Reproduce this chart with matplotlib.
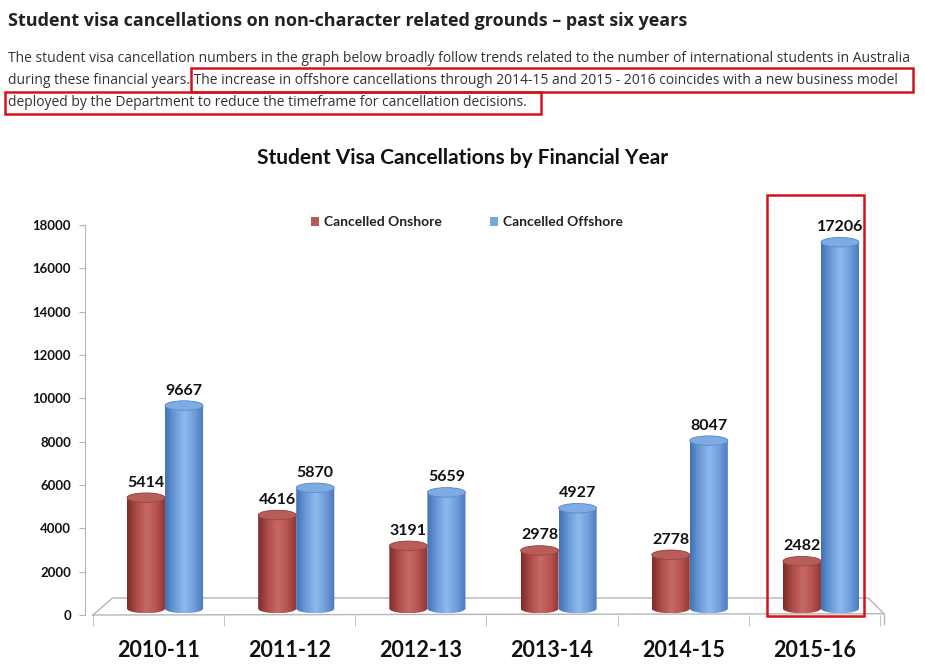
import numpy as np
import matplotlib.pyplot as plt
from matplotlib.patches import Polygon, Ellipse, Rectangle, Patch
from matplotlib.colors import LinearSegmentedColormap

years = ['2010-11', '2011-12', '2012-13', '2013-14', '2014-15', '2015-16']
onshore = [5414, 4616, 3191, 2978, 2778, 2482]
offshore = [9667, 5870, 5659, 4927, 8047, 17206]

heading = 'Student visa cancellations on non-character related grounds \u2013 past six years'
para = ['The student visa cancellation numbers in the graph below broadly follow trends related to the number of international students in Australia',
        'during these financial years. The increase in offshore cancellations through 2014-15 and 2015 - 2016 coincides with a new business model',
        'deployed by the Department to reduce the timeframe for cancellation decisions.']
chart_title = 'Student Visa Cancellations by Financial Year'

W, H = 925, 665
fig = plt.figure(figsize=(9.25, 6.65), dpi=100)


def fx(x):
    return x / W


def fy(y):
    return 1 - y / H


# page text above the chart
fig.text(fx(8), fy(21), heading, family='Open Sans', weight='bold', fontsize=13.0,
         color='#222222', va='center', ha='left')
for i, line in enumerate(para):
    fig.text(fx(8), fy(58 + i * 22.5), line, family='Open Sans', fontsize=10.0,
             color='#333333', va='center', ha='left')

# red highlight boxes
for (x0, y0, x1, y1) in [(191, 68, 913, 92), (5, 92, 541, 114), (767, 195, 864, 616)]:
    fig.add_artist(Rectangle((fx(x0), fy(y1)), fx(x1) - fx(x0), fy(y0) - fy(y1),
                             transform=fig.transFigure, fill=False,
                             edgecolor='#d0141a', linewidth=1.8, zorder=10))

fig.text(fx(463), fy(158), chart_title, family='Lato', weight='bold', fontsize=15.0,
         color='#111111', ha='center', va='center')

ax = fig.add_axes([fx(85), fy(615), fx(880) - fx(85), fy(225) - fy(615)])

red_cmap = LinearSegmentedColormap.from_list('r', ['#7c2c2a', '#b04d4a', '#c56a66', '#b85350', '#8a3533'])
blue_cmap = LinearSegmentedColormap.from_list('b', ['#4272b3', '#6a9ad8', '#8fbaee', '#6f9fdc', '#4878ba'])

half_w = 0.145
ry = 220
base = 300


def cylinder(xc, top, cmap, top_color, rim):
    t = np.linspace(np.pi, 2 * np.pi, 50)
    lower = np.column_stack([xc + half_w * np.cos(t), base + ry * np.sin(t)])
    t2 = np.linspace(0, np.pi, 50)
    upper = np.column_stack([xc + half_w * np.cos(t2), top + ry * np.sin(t2)])
    outline = Polygon(np.vstack([lower, upper]), closed=True, facecolor='none',
                      edgecolor='none', zorder=3)
    ax.add_patch(outline)
    grad = np.linspace(0, 1, 128).reshape(1, -1)
    im = ax.imshow(grad, cmap=cmap, extent=[xc - half_w, xc + half_w, base - ry, top + ry],
                   aspect='auto', interpolation='bilinear', zorder=3)
    im.set_clip_path(outline)
    ax.add_patch(Ellipse((xc, top), 2 * half_w, 2 * ry, facecolor=top_color,
                         edgecolor=rim, linewidth=0.6, zorder=4))


# 3d floor
ax.plot([-0.5, -0.35, 5.41, 5.53, -0.5], [0, 785, 785, 60, 0], color='#b5b5b5', lw=1, zorder=1,
        clip_on=False)
ax.plot([5.53, 5.53], [60, -400], color='#b5b5b5', lw=1, zorder=1, clip_on=False)

x = np.arange(len(years))
for i in range(len(years)):
    xr = x[i] + 0.05 - half_w
    xb = x[i] + 0.05 + half_w
    cylinder(xr, onshore[i], red_cmap, '#b75d5a', '#9a4542')
    cylinder(xb, offshore[i], blue_cmap, '#7eabe3', '#5d8bca')
    ax.text(xr, onshore[i] + ry + 150, str(onshore[i]), family='Lato', weight='bold',
            fontsize=11.5, ha='center', va='bottom', color='#111111', zorder=6)
    ax.text(xb, offshore[i] + ry + 150, str(offshore[i]), family='Lato', weight='bold',
            fontsize=11.5, ha='center', va='bottom', color='#111111', zorder=6)

ax.set_xlim(-0.56, 5.5)
ax.set_ylim(0, 18000)
ax.set_yticks(range(0, 18001, 2000))
ax.set_yticklabels([str(v) for v in range(0, 18001, 2000)], family='Lato', weight='bold',
                   fontsize=9.5, color='#111111')
ax.set_xticks(x)
ax.set_xticklabels(years, family='Lato', weight='bold', fontsize=15.5, color='#111111')
ax.set_xticks(np.arange(-0.5, 6, 1), minor=True)
ax.tick_params(axis='x', which='major', length=0, pad=18)
ax.tick_params(axis='x', which='minor', length=8, color='#b5b5b5', direction='out')
ax.tick_params(axis='y', length=4, color='#b5b5b5', pad=6)
for s in ['top', 'right', 'bottom']:
    ax.spines[s].set_visible(False)
ax.spines['left'].set_color('#b5b5b5')
ax.patch.set_alpha(0)

handles = [Patch(facecolor='#b55a57', label='Cancelled Onshore'),
           Patch(facecolor='#7aa7e0', label='Cancelled Offshore')]
leg = fig.legend(handles=handles, loc='center', bbox_to_anchor=(fx(467), fy(222)), ncol=2,
                 frameon=False, handlelength=0.6, handleheight=0.6, handletextpad=0.4,
                 columnspacing=3.4, prop={'family': 'Lato', 'weight': 'bold', 'size': 10})
for t in leg.get_texts():
    t.set_color('#222222')

fig.savefig('out.png', dpi=100)
